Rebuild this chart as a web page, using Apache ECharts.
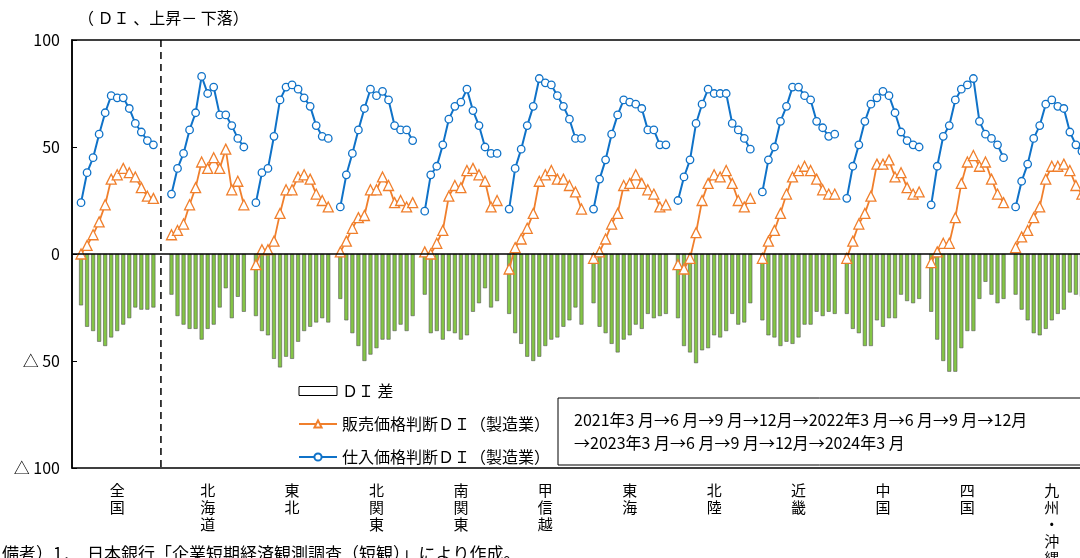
<!DOCTYPE html>
<html><head><meta charset="utf-8">
<script src="https://cdn.jsdelivr.net/npm/echarts@6/dist/echarts.min.js"></script>
<style>html,body{margin:0;padding:0;background:#fff}#c{width:1080px;height:558px}</style>
</head><body><div id="c"></div>
<script>
const regions = ['全国','北海道','東北','北関東','南関東','甲信越','東海','北陸','近畿','中国','四国','九州・沖縄'];
const quarters = ['2021/3','2021/6','2021/9','2021/12','2022/3','2022/6','2022/9','2022/12','2023/3','2023/6','2023/9','2023/12','2024/3'];
const yTicks = [-100,-50,0,50,100];
// 仕入価格判断DI（製造業）
const inputDI = [
  [24,38,45,56,66,74,73,73,68,61,57,53,51],
  [28,40,47,58,66,83,75,78,65,65,60,54,50],
  [24,38,40,55,72,78,79,77,73,69,60,55,54],
  [22,37,47,58,68,77,74,76,72,60,58,58,53],
  [20,37,41,51,63,69,71,77,67,60,50,47,47],
  [21,40,49,60,69,82,80,79,74,69,63,54,54],
  [21,35,44,56,65,72,71,70,68,58,58,51,51],
  [25,36,44,61,70,77,75,75,75,61,58,54,49],
  [29,44,50,62,69,78,78,74,72,62,59,55,56],
  [26,41,51,62,70,73,76,74,66,57,53,51,50],
  [23,41,55,60,72,77,79,82,62,56,54,51,45],
  [22,34,42,54,60,70,72,69,68,57,51,48,46]
];
// 販売価格判断DI（製造業）
const salesDI = [
  [0,4,9,15,23,35,37,40,38,36,31,27,26],
  [9,11,14,23,31,43,40,45,40,49,30,34,23],
  [-5,2,2,6,19,30,30,36,37,35,28,25,22],
  [1,6,12,17,18,30,30,36,32,24,25,22,24],
  [1,0,5,11,27,32,31,39,40,37,34,22,25],
  [-7,3,7,12,19,34,37,39,35,35,32,29,21],
  [-2,1,7,14,19,32,33,37,33,30,28,22,23],
  [-5,-7,-2,10,25,33,37,36,39,33,25,22,26],
  [-2,6,11,19,28,36,39,41,39,35,30,28,28],
  [-2,6,14,19,27,42,42,44,36,38,31,28,29],
  [-4,1,5,5,17,33,43,46,41,43,35,28,24],
  [3,8,11,17,22,35,41,41,42,39,32,28,27]
];
// ＤＩ差
const diffDI = [
  [-24,-34,-36,-41,-43,-39,-36,-33,-30,-25,-26,-26,-25],
  [-19,-29,-33,-35,-35,-40,-35,-33,-25,-16,-30,-20,-27],
  [-29,-36,-38,-49,-53,-48,-49,-41,-36,-34,-32,-30,-32],
  [-21,-31,-37,-43,-50,-47,-44,-40,-40,-36,-33,-36,-29],
  [-19,-37,-36,-40,-36,-37,-40,-38,-27,-23,-16,-25,-22],
  [-28,-37,-42,-48,-50,-48,-43,-40,-39,-34,-31,-25,-33],
  [-23,-34,-37,-42,-46,-40,-38,-33,-35,-28,-30,-29,-28],
  [-30,-43,-46,-51,-45,-44,-38,-39,-36,-28,-33,-32,-23],
  [-31,-38,-39,-43,-41,-42,-39,-33,-33,-27,-29,-27,-28],
  [-28,-35,-37,-43,-43,-31,-34,-30,-30,-19,-22,-23,-21],
  [-27,-40,-50,-55,-55,-44,-36,-36,-21,-13,-19,-23,-21],
  [-19,-26,-31,-37,-38,-35,-31,-28,-26,-18,-19,-20,-19]
];

const FONT = "'Noto Sans CJK JP','Noto Sans',sans-serif";
// slot layout: 1 lead gap, 全国 13, 2 gaps, then 13 + 1 gap per region
const N = 170;
const cats = new Array(N).fill('');
const barData = new Array(N).fill(null), salesData = new Array(N).fill(null), inputData = new Array(N).fill(null);
const groupStart = regions.map((r,i)=> i===0 ? 1 : 16 + 14*(i-1));
regions.forEach((r,i)=>{
  const s = groupStart[i];
  cats[s+6] = r;
  for (let q=0;q<quarters.length;q++){
    barData[s+q] = diffDI[i][q];
    salesData[s+q] = salesDI[i][q];
    inputData[s+q] = inputDI[i][q];
  }
});

const chart = echarts.init(document.getElementById('c'));
const option = {
  animation:false,
  backgroundColor:'#fff',
  grid:{left:72, top:40, bottom:90, right:-17, show:true, borderColor:'#000', borderWidth:1.5,
    containLabel:false, outerBoundsMode:'none'},
  legend:{
    orient:'vertical', left:293, top:378, itemGap:17, itemWidth:38, itemHeight:9,
    textStyle:{fontSize:16, fontFamily:FONT, color:'#000'},
    data:[
      {name:'ＤＩ 差', icon:'rect', itemStyle:{color:'#fff', borderColor:'#000', borderWidth:1}},
      {name:'販売価格判断ＤＩ（製造業）'},
      {name:'仕入価格判断ＤＩ（製造業）'}
    ]
  },
  xAxis:{
    type:'category', data:cats, boundaryGap:true,
    axisLine:{show:false}, axisTick:{show:false}, splitLine:{show:false},
    axisLabel:{interval:0, margin:14, fontSize:15, lineHeight:17, color:'#000', fontFamily:FONT,
      verticalAlign:'top',
      formatter:(v)=> v ? v.split('').join('\n') : ''}
  },
  yAxis:{
    type:'value', min:-100, max:100, interval:50,
    axisLine:{show:true, lineStyle:{color:'#000', width:1.5}},
    axisTick:{show:true, inside:true, length:5, lineStyle:{color:'#000'}},
    splitLine:{show:false},
    axisLabel:{fontSize:16, color:'#000', fontFamily:FONT, margin:12,
      formatter:(v)=> yTicks.includes(v) ? (v<0 ? '△ '+(-v) : String(v)) : ''}
  },
  series:[
    {name:'ＤＩ 差', type:'bar', data:barData, barWidth:4, z:1,
      itemStyle:{color:'#84c546', borderColor:'#555', borderWidth:0.6},
      markLine:{silent:true, symbol:'none', label:{show:false},
        lineStyle:{color:'#000', type:'solid', width:1.5}, data:[{yAxis:0}]}
    },
    {name:'販売価格判断ＤＩ（製造業）', type:'line', data:salesData, connectNulls:false, z:3,
      symbol:'triangle', symbolSize:10, showSymbol:true,
      lineStyle:{color:'#f07f2c', width:1.8},
      itemStyle:{color:'#fff', borderColor:'#f07f2c', borderWidth:1.3}
    },
    {name:'仕入価格判断ＤＩ（製造業）', type:'line', data:inputData, connectNulls:false, z:4,
      symbol:'circle', symbolSize:7.5, showSymbol:true,
      lineStyle:{color:'#0f72c8', width:2},
      itemStyle:{color:'#fff', borderColor:'#0f72c8', borderWidth:1.3}
    }
  ]
};
chart.setOption(option);

const x14 = chart.convertToPixel({xAxisIndex:0}, 14);
const x15 = chart.convertToPixel({xAxisIndex:0}, 15);
const yTop = chart.convertToPixel({yAxisIndex:0}, 100);
const yBot = chart.convertToPixel({yAxisIndex:0}, -100);
const xd = x14 + 0.25*(x15-x14);
chart.setOption({
  graphic:[
    {type:'line', shape:{x1:xd, y1:yTop, x2:xd, y2:yBot}, style:{stroke:'#000', lineWidth:1.5, lineDash:[7,5]}, z:5},
    {type:'text', left:78, top:10, style:{text:'（ ＤＩ 、上昇－ 下落）', font:'16px '+FONT, fill:'#000'}},
    {type:'rect', shape:{x:558, y:398, width:540, height:67}, style:{fill:'#fff', stroke:'#000', lineWidth:1}, z:10},
    {type:'text', x:574, y:408, z:11, style:{text:'2021年3 月→6 月→9 月→12月→2022年3 月→6 月→9 月→12月\n→2023年3 月→6 月→9 月→12月→2024年3 月', font:'16px '+FONT, fill:'#000', lineHeight:23}},
    {type:'text', x:2, y:545, style:{text:'備考）1．  日本銀行「企業短期経済観測調査（短観）」により作成。', font:'17px '+FONT, fill:'#000'}}
  ]
});
</script></body></html>
